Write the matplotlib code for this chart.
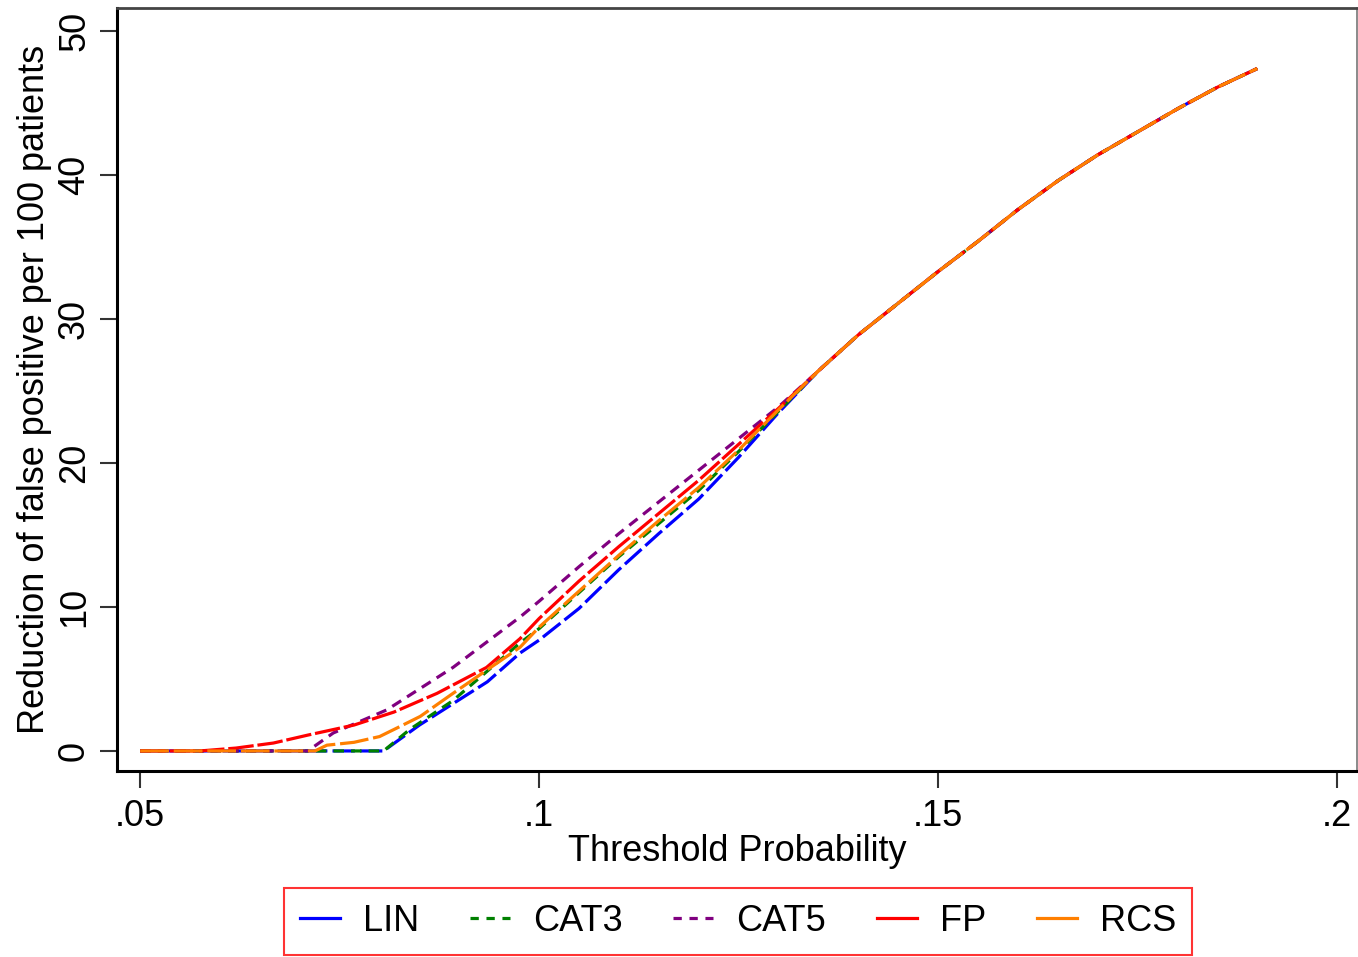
import matplotlib
matplotlib.use("Agg")
import matplotlib.pyplot as plt
from matplotlib.lines import Line2D

plt.rcParams['font.family'] = ['Liberation Sans', 'DejaVu Sans']

# shared upper part of all curves (they coincide from about .135 on)
x_tail = [0.135, 0.14, 0.145, 0.15, 0.155, 0.16, 0.165, 0.17, 0.175, 0.18, 0.185, 0.19]
y_tail = [26.4, 28.9, 31.1, 33.3, 35.4, 37.6, 39.6, 41.4, 43.0, 44.6, 46.1, 47.4]

x_mid = [0.1, 0.105, 0.11, 0.115, 0.12, 0.125, 0.13]

lin_x = [0.05, 0.0805, 0.085, 0.0935, 0.0976]
lin_y = [0, 0, 1.8, 4.8, 6.8]
lin_mid = [7.7, 9.9, 12.6, 15.1, 17.5, 20.4, 23.5]

cat3_x = [0.05, 0.0805, 0.0838, 0.0892, 0.0976]
cat3_y = [0, 0, 1.5, 3.5, 7.5]
cat3_mid = [8.5, 11.0, 13.5, 15.8, 18.1, 20.8, 23.6]

cat5_x = [0.05, 0.071, 0.0742, 0.0809, 0.0892, 0.0976]
cat5_y = [0, 0, 1.25, 2.85, 5.8, 9.3]
cat5_mid = [10.4, 12.8, 15.1, 17.3, 19.5, 21.7, 23.9]

fp_x = [0.05, 0.0575, 0.062, 0.0667, 0.071, 0.0768, 0.0818, 0.0872, 0.0934, 0.0976]
fp_y = [0, 0, 0.2, 0.55, 1.1, 1.8, 2.7, 4.0, 5.8, 7.8]
fp_mid = [9.2, 11.8, 14.2, 16.5, 18.8, 21.3, 23.8]

rcs_x = [0.05, 0.0719, 0.0734, 0.0768, 0.08, 0.0822, 0.0851, 0.0892, 0.0976]
rcs_y = [0, 0, 0.4, 0.6, 1.0, 1.6, 2.4, 4.0, 7.2]
rcs_mid = [8.6, 11.1, 13.6, 16.0, 18.3, 20.9, 23.7]

labels = ['LIN', 'CAT3', 'CAT5', 'FP', 'RCS']
colors = ['#0000ff', '#008000', '#800080', '#ff0000', '#ff7f00']
dashes = [(7, 1.6), (3.3, 2.2), (3.3, 2.2), (8, 1.2), (9, 1.5)]
short_dash = [False, True, True, False, False]

series = [
    (lin_x, lin_y, lin_mid),
    (cat3_x, cat3_y, cat3_mid),
    (cat5_x, cat5_y, cat5_mid),
    (fp_x, fp_y, fp_mid),
    (rcs_x, rcs_y, rcs_mid),
]

fig = plt.figure(figsize=(13.58, 9.57), dpi=100)
ax = fig.add_axes([0.0862, 0.1944, 0.9131, 0.7972])

for (xs, ys, ym), lab, c, d in zip(series, labels, colors, dashes):
    x = xs + x_mid + x_tail
    y = ys + ym + y_tail
    ax.plot(x, y, color=c, lw=2.3, dashes=d, label=lab)

ax.set_xlim(0.0471, 0.2025)
ax.set_ylim(-1.39, 51.6)
ax.set_xticks([0.05, 0.1, 0.15, 0.2])
ax.set_xticklabels(['.05', '.1', '.15', '.2'])
ax.set_yticks([0, 10, 20, 30, 40, 50])
ax.set_yticklabels(['0', '10', '20', '30', '40', '50'], rotation=90, va='center')
ax.tick_params(axis='both', labelsize=26, length=12, width=1.5, color='#333333')
ax.tick_params(axis='x', pad=8)
ax.tick_params(axis='y', pad=6)

for side in ['left', 'bottom']:
    ax.spines[side].set_linewidth(2.2)
    ax.spines[side].set_color('black')
ax.spines['top'].set_linewidth(2)
ax.spines['top'].set_color('#444444')
ax.spines['right'].set_linewidth(1.2)
ax.spines['right'].set_color('#777777')

ax.set_xlabel('Threshold Probability', fontsize=26, labelpad=0)
ax.set_ylabel('Reduction of false positive per 100 patients', fontsize=26, labelpad=4)

# legend keys: solid for the long-dash series, short dashes for CAT3/CAT5
handles = []
for lab, c, sd in zip(labels, colors, short_dash):
    if sd:
        handles.append(Line2D([], [], color=c, lw=2.3, dashes=(2.6, 2.4)))
    else:
        handles.append(Line2D([], [], color=c, lw=2.3))

leg = fig.legend(handles, labels, loc='lower center', bbox_to_anchor=(0.5435, 0.0), ncol=5,
                 fontsize=26, frameon=True, fancybox=False, handlelength=1.1,
                 columnspacing=1.4, handletextpad=0.65, borderpad=0.45, borderaxespad=0.05)
leg.get_frame().set_edgecolor('red')
leg.get_frame().set_linewidth(1.5)

plt.savefig('out.png', dpi=100)
